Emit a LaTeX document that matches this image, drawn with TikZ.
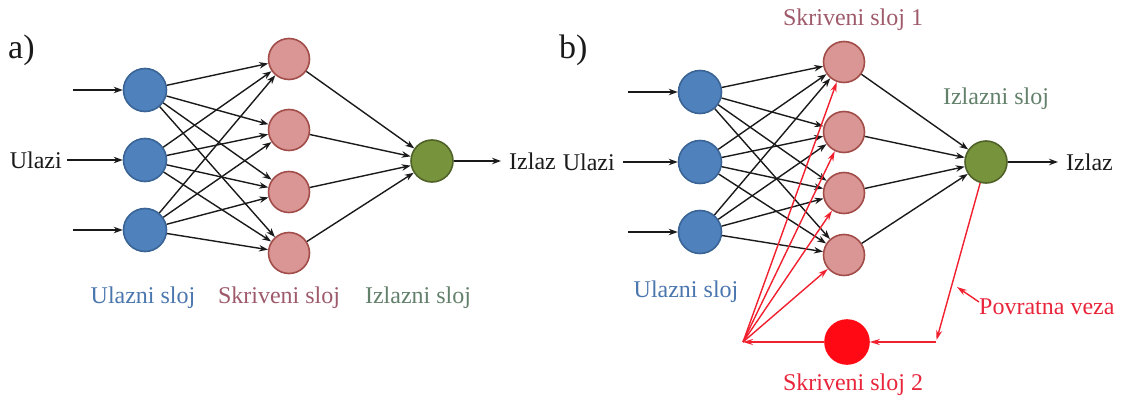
\documentclass[tikz,border=0pt]{standalone}
\usepackage{fontspec}
\setmainfont{Liberation Serif}
\usetikzlibrary{arrows.meta}
\definecolor{inpFill}{HTML}{4F81BD}
\definecolor{inpBorder}{HTML}{3A6496}
\definecolor{hidFill}{HTML}{D99694}
\definecolor{hidBorder}{HTML}{A24D4A}
\definecolor{outFill}{HTML}{77933C}
\definecolor{outBorder}{HTML}{4F6228}
\definecolor{redFill}{HTML}{FF0A14}
\definecolor{redLine}{HTML}{F0202E}
\definecolor{txtBlue}{HTML}{4A76AE}
\definecolor{txtHid}{HTML}{9E5A6A}
\definecolor{txtOut}{HTML}{62806A}
\definecolor{txtRed}{HTML}{E8253A}
\definecolor{txtBlack}{HTML}{1A1A1A}
\tikzset{
  neuron/.style={circle, line width=1.6pt, inner sep=0pt},
  inp/.style={neuron, draw=inpBorder, fill=inpFill, minimum size=43pt},
  hid/.style={neuron, draw=hidBorder, fill=hidFill, minimum size=41pt},
  outn/.style={neuron, draw=outBorder, fill=outFill, minimum size=42pt},
  recn/.style={neuron, draw=redFill, fill=redFill, minimum size=44pt},
  conn/.style={line width=1.4pt, draw=txtBlack, -{Stealth[length=9pt,width=6.5pt]}},
  redconn/.style={line width=1.4pt, draw=redLine, -{Stealth[length=10pt,width=6pt]}},
  lbl/.style={inner sep=0pt, font=\fontsize{24}{28}\selectfont},
  tag/.style={inner sep=0pt, font=\fontsize{34}{38}\selectfont, text=txtBlack, anchor=west}
}
\begin{document}
\begin{tikzpicture}[x=1pt,y=-1pt]
\useasboundingbox (0,0) rectangle (1126,401);

% ---------------- part a ----------------
\node[tag] (ta) at (8,50) {a)};
\node[inp] (ai1) at (145,90) {};
\node[inp] (ai2) at (145,160) {};
\node[inp] (ai3) at (145,230) {};
\node[hid] (ah1) at (289,59) {};
\node[hid] (ah2) at (289,130) {};
\node[hid] (ah3) at (289,192) {};
\node[hid] (ah4) at (289,253) {};
\node[outn] (ao) at (432,161) {};
\coordinate (as1) at (73,90);
\coordinate (as3) at (73,230);
\node[lbl, text=txtBlack, anchor=east] (aul) at (62,160) {Ulazi};
\node[lbl, text=txtBlack, anchor=west] (aiz) at (509,161) {Izlaz};
\draw[conn] (as1) -- (ai1);
\draw[conn] (as3) -- (ai3);
\draw[conn, shorten <=5pt] (aul) -- (ai2);
\draw[conn, shorten >=8pt] (ao) -- (aiz);
\foreach \i in {1,2,3}{
  \foreach \h in {1,2,3,4}{
    \draw[conn] (ai\i) -- (ah\h);
  }
}
\foreach \h in {1,2,3,4}{
  \draw[conn] (ah\h) -- (ao);
}
\node[lbl, text=txtBlue] (alu) at (143,298) {Ulazni sloj};
\node[lbl, text=txtHid] (alh) at (279,298) {Skriveni sloj};
\node[lbl, text=txtOut] (alo) at (418,298) {Izlazni sloj};

% ---------------- part b ----------------
\node[tag] (tb) at (559,50) {b)};
\node[inp] (bi1) at (700,92) {};
\node[inp] (bi2) at (700,162) {};
\node[inp] (bi3) at (700,232) {};
\node[hid] (bh1) at (844,62) {};
\node[hid] (bh2) at (844,132) {};
\node[hid] (bh3) at (844,193) {};
\node[hid] (bh4) at (844,255) {};
\node[outn] (bo) at (986,162) {};
\coordinate (bs1) at (628,92);
\coordinate (bs3) at (628,232);
\node[lbl, text=txtBlack, anchor=east] (bul) at (615,162) {Ulazi};
\node[lbl, text=txtBlack, anchor=west] (biz) at (1066,162) {Izlaz};
\draw[conn] (bs1) -- (bi1);
\draw[conn] (bs3) -- (bi3);
\draw[conn, shorten <=8pt] (bul) -- (bi2);
\draw[conn, shorten >=8pt] (bo) -- (biz);
\foreach \i in {1,2,3}{
  \foreach \h in {1,2,3,4}{
    \draw[conn] (bi\i) -- (bh\h);
  }
}
\foreach \h in {1,2,3,4}{
  \draw[conn] (bh\h) -- (bo);
}
\node[lbl, text=txtHid] (blh) at (853,20) {Skriveni sloj 1};
\node[lbl, text=txtOut] (blo) at (996,99) {Izlazni sloj};
\node[lbl, text=txtBlue] (blu) at (686,292) {Ulazni sloj};

% recurrent part
\node[recn] (br) at (847,342) {};
\coordinate (bf) at (743,342);
\coordinate (bc) at (936,342);
\coordinate (bp) at (957,287);
\draw[redconn, shorten >=2pt] (bo) -- (bc);
\draw[redconn] (bc) -- (br);
\draw[redconn] (br) -- (bf);
\foreach \h in {1,2,3,4}{
  \draw[redconn] (bf) -- (bh\h);
}
\node[lbl, text=txtRed, anchor=west] (bpv) at (979,307) {Povratna veza};
\draw[redconn] ([yshift=5pt]bpv.west) -- (bp);
\node[lbl, text=txtRed] (bl2) at (853,385) {Skriveni sloj 2};
\end{tikzpicture}
\end{document}
